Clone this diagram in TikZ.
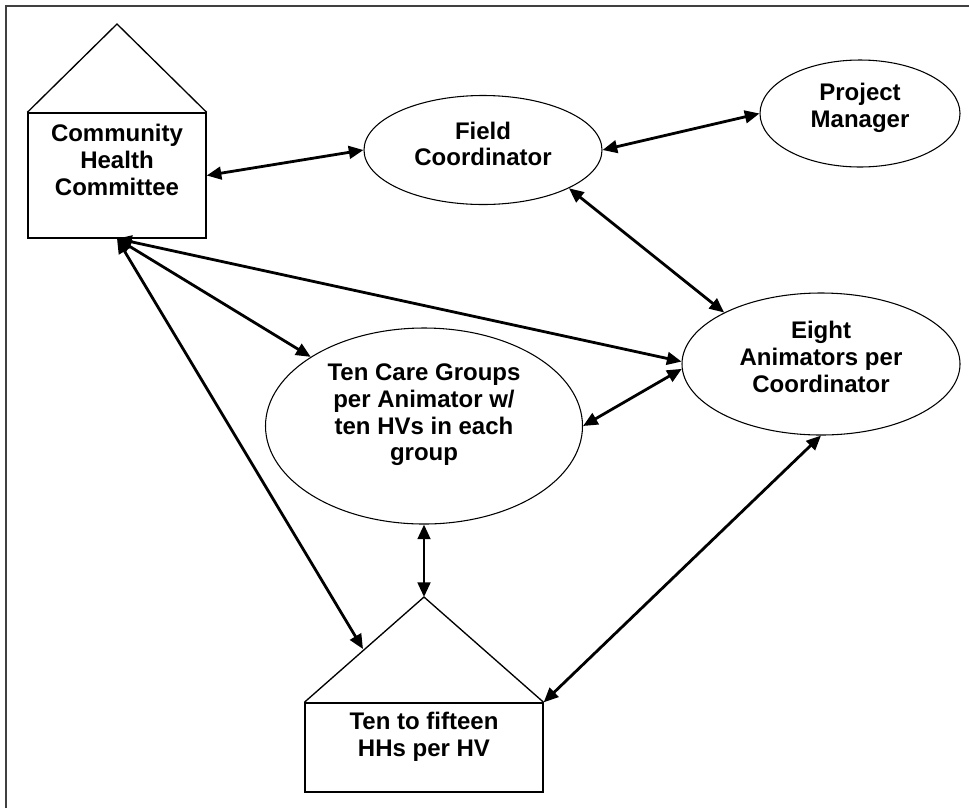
\documentclass[tikz,border=0pt]{standalone}
\usepackage{fontspec}
\setmainfont{Liberation Sans}
\usetikzlibrary{arrows.meta,shapes.geometric}

\begin{document}
\begin{tikzpicture}[x=0.75pt, y=-0.75pt,
    oval/.style={draw, ellipse, line width=0.8pt, inner sep=0pt},
    hut/.style={draw, rectangle, line width=1pt, inner sep=0pt},
    txt/.style={align=center, font=\bfseries\fontsize{18}{20}\selectfont},
    link/.style={line width=2.1pt, {Triangle[length=11pt,width=9.5pt]}-{Triangle[length=11pt,width=9.5pt]}}]
  \useasboundingbox (0,0) rectangle (969,808);
  \draw[color=black!75, line width=1.5pt] (6,808)--(6,6)--(969,6);

  % houses
  \node[hut, minimum width=133.5pt, minimum height=93.75pt] (chc) at (117,175.5) {};
  \coordinate (chctop) at (117,24);
  \draw[line width=1pt] (chc.north west)--(chctop)--(chc.north east);
  \node[txt] (chctxt) at (117,160) {Community\\Health\\Committee};

  \node[hut, minimum width=178.5pt, minimum height=66.75pt] (hh) at (424,747.5) {};
  \coordinate (hhtop) at (424,597);
  \coordinate (hhside) at (363,649);
  \draw[line width=1pt] (hh.north west)--(hhtop)--(hh.north east);
  \node[txt] (hhtxt) at (424,737) {Ten to fifteen\\HHs per HV};

  % ovals
  \node[oval, minimum width=178.5pt, minimum height=81.75pt] (field) at (483,150) {};
  \node[txt] (fieldtxt) at (483,144) {Field\\Coordinator};
  \node[oval, minimum width=150pt, minimum height=80.25pt] (pm) at (860,113.5) {};
  \node[txt] (pmtxt) at (860,108) {Project\\Manager};
  \node[oval, minimum width=208.5pt, minimum height=106.5pt] (eight) at (821,364) {};
  \node[txt] (eighttxt) at (821,357) {Eight\\Animators per\\Coordinator};
  \node[oval, minimum width=237.75pt, minimum height=147pt] (care) at (424,426) {};
  \node[txt] (caretxt) at (424,415) {Ten Care Groups\\per Animator w/\\ten HVs in each\\group};

  % links
  \draw[link] (chc.east)--(field.west);
  \draw[link] (field.east)--(pm.west);
  \draw[link] (field.-24)--(eight.152);
  \draw[link] (chc.south)--(eight.179);
  \draw[link] (chc.south)--(care);
  \draw[link] (chc.south)--(hhside);
  \draw[link] (care.east)--(eight.182);
  \draw[link] (care.south)--(hhtop);
  \draw[link] (eight.south)--(hh.north east);
\end{tikzpicture}
\end{document}
